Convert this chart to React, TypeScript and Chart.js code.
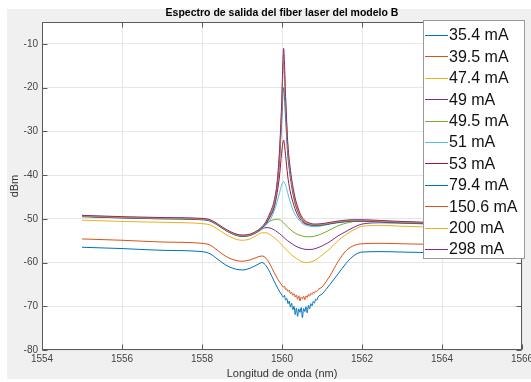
import React, { useEffect, useRef } from 'react';
import { Chart, registerables } from 'chart.js';

Chart.register(...registerables);

// ---------- DATA ----------
// Wavelength grid (nm) for the higher-current spectra
const wavelength = [
  1555, 1556, 1557, 1558, 1558.2, 1558.4, 1558.6, 1558.8, 1559.0, 1559.2, 1559.4, 1559.5, 1559.6, 1559.7,
  1559.8, 1559.88, 1559.94, 1559.99, 1560.04, 1560.09, 1560.14, 1560.2, 1560.3, 1560.4, 1560.5, 1560.6, 1560.7, 1560.8,
  1561.0, 1561.2, 1561.4, 1561.6, 1561.8, 1562.0, 1562.5, 1563, 1564, 1565,
];

// Wavelength grid (nm) for the two lowest-current (noisy) spectra
const wavelengthLow = [
  1555, 1556, 1557, 1558, 1558.2, 1558.4, 1558.6, 1558.8, 1559.0, 1559.2, 1559.4, 1559.5, 1559.6, 1559.7, 1559.8, 1559.9,
  1560.0, 1560.03, 1560.06, 1560.09, 1560.12, 1560.15, 1560.18, 1560.21, 1560.24, 1560.27, 1560.3, 1560.33, 1560.36,
  1560.39, 1560.42, 1560.45, 1560.48, 1560.51, 1560.54, 1560.57, 1560.6, 1560.63, 1560.66, 1560.69, 1560.72, 1560.75,
  1560.78, 1560.81, 1560.84, 1560.87, 1560.9,
  1561.0, 1561.2, 1561.4, 1561.6, 1561.8, 1562.0, 1562.5, 1563, 1564, 1565,
];

const p35_4 = [
  -56.5, -56.8, -57.2, -57.5, -58.0, -59.3, -60.6, -61.4, -61.7, -61.3, -60.4, -60.0, -60.7, -62.3, -64.2, -66.0,
  -67.5, -67.9, -67.5, -68.6, -68.2, -69.4, -68.8, -70.2, -69.3, -70.8, -70.0, -71.9, -70.4,
  -72.3, -70.6, -71.4, -70.3, -72.6, -70.5, -71.2, -70.1, -71.5, -69.8, -70.6, -69.4, -69.9,
  -68.9, -69.3, -68.4, -68.6, -67.9,
  -67.2, -65.0, -62.6, -60.2, -58.4, -57.6, -57.5, -57.6, -57.8, -58.0,
];

const p39_5 = [
  -54.6, -54.9, -55.3, -55.6, -56.0, -57.3, -58.6, -59.4, -59.7, -59.4, -58.7, -58.5, -59.0, -60.4, -62.2, -63.9,
  -65.2, -65.6, -65.4, -66.2, -66.0, -66.6, -66.3, -67.1, -66.8, -67.5, -67.1, -67.9, -67.4,
  -68.4, -67.6, -68.8, -67.9, -68.3, -67.7, -68.5, -67.6, -68.0, -67.3, -67.7, -67.0, -67.3,
  -66.8, -67.0, -66.5, -66.6, -66.2,
  -65.6, -63.0, -59.8, -57.3, -56.1, -55.7, -55.6, -55.7, -55.9, -56.1,
];

const p47_4 = [
  -50.3, -50.6, -50.8, -51.1, -51.4, -52.4, -53.6, -54.5, -54.9, -54.6, -53.6, -53.2, -53.2, -53.6,
  -54.3, -54.9, -55.4, -55.9, -56.4, -56.9, -57.4, -57.9, -58.7, -59.3, -59.8, -60.0, -59.9, -59.6,
  -58.3, -56.8, -55.0, -53.6, -52.5, -51.7, -51.5, -51.7, -51.9, -52.1,
];

const p49 = [
  -49.4, -49.7, -49.9, -50.1, -50.4, -51.4, -52.6, -53.5, -53.9, -53.7, -52.8, -52.3, -52.0, -52.1,
  -52.5, -53.0, -53.4, -53.8, -54.2, -54.6, -55.0, -55.4, -56.0, -56.5, -56.8, -57.0, -57.0, -56.9,
  -56.2, -55.2, -53.9, -52.9, -51.9, -51.2, -50.9, -51.0, -51.2, -51.4,
];

const p49_5 = [
  -49.4, -49.7, -49.9, -50.1, -50.4, -51.4, -52.6, -53.5, -53.9, -53.6, -52.6, -51.9, -51.1, -50.5,
  -50.2, -50.1, -50.2, -50.5, -50.9, -51.4, -51.9, -52.4, -53.1, -53.6, -53.9, -54.1, -54.1, -54.0,
  -53.4, -52.5, -51.6, -51.0, -50.6, -50.4, -50.5, -50.7, -51.0, -51.2,
];

const p51 = [
  -49.5, -49.8, -50.0, -50.2, -50.5, -51.5, -52.7, -53.6, -54.0, -53.8, -53.0, -52.4, -51.5, -50.3,
  -48.3, -46.0, -44.0, -42.3, -41.5, -42.3, -44.0, -46.0, -48.5, -50.0, -51.0, -51.5, -51.7, -51.8,
  -51.6, -51.2, -50.9, -50.7, -50.6, -50.6, -50.8, -51.0, -51.3, -51.5,
];

const p53 = [
  -49.4, -49.7, -49.9, -50.1, -50.4, -51.4, -52.6, -53.5, -53.9, -53.7, -52.8, -52.1, -51.1, -49.6,
  -47.5, -44.0, -40.0, -35.0, -32.0, -35.5, -40.0, -43.5, -47.0, -49.3, -50.6, -51.2, -51.4, -51.5,
  -51.4, -51.1, -50.8, -50.6, -50.5, -50.5, -50.7, -50.9, -51.2, -51.4,
];

const p79_4 = [
  -49.5, -49.8, -50.0, -50.2, -50.5, -51.5, -52.7, -53.6, -54.0, -53.8, -52.9, -52.1, -51.0, -49.3,
  -47.0, -42.5, -36.5, -28.0, -20.0, -27.0, -35.0, -40.0, -45.5, -48.5, -50.2, -51.0, -51.3, -51.5,
  -51.4, -51.1, -50.8, -50.6, -50.5, -50.5, -50.7, -50.9, -51.2, -51.4,
];

const p150_6 = [
  -49.4, -49.7, -49.9, -50.1, -50.4, -51.4, -52.6, -53.5, -53.9, -53.7, -52.8, -52.0, -50.8, -49.0,
  -46.5, -42.0, -35.5, -25.5, -14.0, -23.5, -33.0, -39.0, -45.0, -48.3, -50.0, -50.9, -51.2, -51.4,
  -51.3, -51.0, -50.7, -50.5, -50.4, -50.4, -50.6, -50.8, -51.1, -51.3,
];

const p200 = [
  -49.3, -49.6, -49.8, -50.0, -50.3, -51.3, -52.5, -53.4, -53.8, -53.6, -52.7, -51.9, -50.7, -48.8,
  -46.3, -41.8, -34.5, -25.0, -12.5, -23.0, -32.5, -38.5, -44.3, -47.7, -49.8, -50.8, -51.1, -51.3,
  -51.2, -50.9, -50.6, -50.4, -50.3, -50.3, -50.5, -50.7, -51.0, -51.2,
];

const p298 = [
  -49.2, -49.5, -49.7, -49.9, -50.2, -51.2, -52.4, -53.3, -53.7, -53.5, -52.6, -51.8, -50.6, -48.6,
  -46.0, -41.5, -34.0, -24.0, -11.0, -22.0, -32.0, -38.0, -44.0, -47.5, -49.6, -50.6, -51.0, -51.2,
  -51.1, -50.8, -50.5, -50.3, -50.2, -50.2, -50.4, -50.6, -50.9, -51.1,
];

const seriesLabels = ['35.4 mA', '39.5 mA', '47.4 mA', '49 mA', '49.5 mA', '51 mA', '53 mA', '79.4 mA', '150.6 mA', '200 mA', '298 mA'];
const seriesValues = [p35_4, p39_5, p47_4, p49, p49_5, p51, p53, p79_4, p150_6, p200, p298];
const seriesWavelengths = [wavelengthLow, wavelengthLow, wavelength, wavelength, wavelength, wavelength, wavelength, wavelength, wavelength, wavelength, wavelength];

const xTicks = [1554, 1556, 1558, 1560, 1562, 1564, 1566];
const yTicks = [-80, -70, -60, -50, -40, -30, -20, -10];

const titleText = 'Espectro de salida del fiber laser del modelo B';
const xTitle = 'Longitud de onda (nm)';
const yTitle = 'dBm';

// ---------- STYLE ----------
const palette = ['#0072BD', '#D95319', '#EDB120', '#7E2F8E', '#77AC30', '#4DBEEE', '#A2142F', '#0072BD', '#D95319', '#EDB120', '#7E2F8E'];
const FONT = '"Liberation Sans", Arial, Helvetica, sans-serif';

const figurePlugin = {
  id: 'matlabFigure',
  beforeDraw(chart: any) {
    const ctx = chart.ctx;
    const { left, top, right, bottom } = chart.chartArea;
    ctx.save();
    ctx.fillStyle = '#f0f0f0';
    ctx.fillRect(7, 9, chart.width - 7, 370);
    ctx.fillStyle = '#ffffff';
    ctx.fillRect(left, top, right - left, bottom - top);
    ctx.restore();
  },
  afterDatasetsDraw(chart: any) {
    const ctx = chart.ctx;
    const { left, top, right, bottom } = chart.chartArea;
    const xs = chart.scales.x;
    const ys = chart.scales.y;
    ctx.save();
    // frame
    ctx.strokeStyle = '#5a5a5a';
    ctx.lineWidth = 1;
    const L = Math.round(left) + 0.5, T = Math.round(top) + 0.5, R = Math.round(right) - 0.5, B = Math.round(bottom) - 0.5;
    ctx.strokeRect(L, T, R - L, B - T);
    // inward ticks
    ctx.beginPath();
    xTicks.forEach((v) => {
      const px = Math.round(xs.getPixelForValue(v)) + 0.5;
      ctx.moveTo(px, B); ctx.lineTo(px, B - 5);
      ctx.moveTo(px, T); ctx.lineTo(px, T + 5);
    });
    yTicks.forEach((v) => {
      const py = Math.round(ys.getPixelForValue(v)) + 0.5;
      ctx.moveTo(L, py); ctx.lineTo(L + 5, py);
      ctx.moveTo(R, py); ctx.lineTo(R - 5, py);
    });
    ctx.stroke();

    // legend box
    const bx = 423.5, by = 20.5, bw = 101, bh = 238;
    ctx.fillStyle = '#ffffff';
    ctx.fillRect(bx, by, bw, bh);
    ctx.strokeStyle = '#9a9a9a';
    ctx.strokeRect(bx, by, bw, bh);
    ctx.font = `16px ${FONT}`;
    ctx.textBaseline = 'middle';
    ctx.textAlign = 'left';
    seriesLabels.forEach((lab, i) => {
      const y = 35 + i * 21.4;
      ctx.strokeStyle = palette[i];
      ctx.lineWidth = 1;
      ctx.beginPath();
      ctx.moveTo(425, Math.round(y) + 0.5);
      ctx.lineTo(448, Math.round(y) + 0.5);
      ctx.stroke();
      ctx.fillStyle = '#111111';
      ctx.fillText(lab, 449, y + 1);
    });
    ctx.restore();
  },
};

export default function App() {
  const canvasRef = useRef<HTMLCanvasElement | null>(null);

  useEffect(() => {
    if (!canvasRef.current) return;
    const datasets = seriesValues.map((vals, i) => ({
      label: seriesLabels[i],
      data: seriesWavelengths[i].map((x, j) => ({ x, y: vals[j] })),
      borderColor: palette[i],
      backgroundColor: palette[i],
      borderWidth: 1,
      pointRadius: 0,
      fill: false,
      cubicInterpolationMode: 'monotone' as const,
      order: -i,
    }));

    const chart = new Chart(canvasRef.current, {
      type: 'line',
      data: { datasets },
      plugins: [figurePlugin],
      options: {
        responsive: false,
        animation: false,
        devicePixelRatio: 1,
        layout: { padding: { left: 0, right: 9, top: 0, bottom: 0 } },
        plugins: {
          legend: { display: false },
          tooltip: { enabled: false },
          title: {
            display: true,
            text: titleText,
            fullSize: false,
            color: '#000000',
            font: { family: FONT, size: 10.5, weight: 'bold', lineHeight: 1.15 },
            padding: { top: 7, bottom: 3 },
          },
        },
        scales: {
          x: {
            type: 'linear',
            min: 1554,
            max: 1566,
            afterBuildTicks: (s: any) => { s.ticks = xTicks.map((v) => ({ value: v })); },
            afterFit: (s: any) => { s.height = 32; s.paddingLeft = 0; s.paddingRight = 0; },
            grid: { color: '#e6e6e6', drawTicks: false },
            border: { display: false },
            ticks: {
              color: '#444444',
              font: { family: FONT, size: 10 },
              padding: 3,
              maxRotation: 0,
              autoSkip: false,
              callback: (v: any) => String(v),
            },
            title: {
              display: true,
              text: xTitle,
              color: '#333333',
              font: { family: FONT, size: 11 },
              padding: { top: 0, bottom: 1 },
            },
          },
          y: {
            type: 'linear',
            min: -80,
            max: -5,
            afterBuildTicks: (s: any) => { s.ticks = yTicks.map((v) => ({ value: v })); },
            afterFit: (s: any) => { s.width = 42; s.paddingTop = 0; s.paddingBottom = 0; },
            grid: { color: '#e6e6e6', drawTicks: false },
            border: { display: false },
            ticks: {
              color: '#444444',
              font: { family: FONT, size: 10 },
              padding: 4,
              callback: (v: any) => String(v),
            },
            title: {
              display: true,
              text: yTitle,
              color: '#333333',
              font: { family: FONT, size: 11 },
              padding: { top: 8, bottom: 0 },
            },
          },
        },
      },
    } as any);
    return () => chart.destroy();
  }, []);

  return (
    <canvas
      ref={canvasRef}
      width={531}
      height={382}
      style={{ position: 'fixed', left: 0, top: 0, width: 531, height: 382, display: 'block' }}
    />
  );
}
